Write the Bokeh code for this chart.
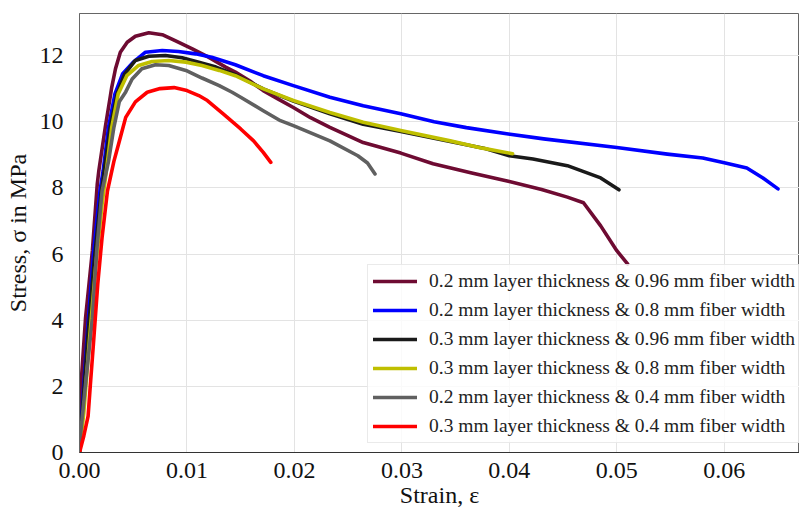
from bokeh.plotting import figure
from bokeh.models import Range1d, FixedTicker, NumeralTickFormatter, Legend, LegendItem
from bokeh.embed import file_html
from bokeh.resources import INLINE

labels = [
    "0.2 mm layer thickness & 0.96 mm fiber width",
    "0.2 mm layer thickness & 0.8 mm fiber width",
    "0.3 mm layer thickness & 0.96 mm fiber width",
    "0.3 mm layer thickness & 0.8 mm fiber width",
    "0.2 mm layer thickness & 0.4 mm fiber width",
    "0.3 mm layer thickness & 0.4 mm fiber width",
]
colors = ["#6e0b32", "#0000ff", "#1a1a1a", "#bfbf00", "#606060", "#ff0000"]

# 0.2 mm / 0.96 mm
x1 = [0, 0.0001, 0.00056, 0.0012, 0.00165, 0.0018, 0.0024, 0.00288, 0.003, 0.00335, 0.0038, 0.00444, 0.0052, 0.00645, 0.0077, 0.0089, 0.0105, 0.012, 0.0136, 0.0145, 0.0159, 0.0171, 0.0185, 0.0199, 0.0215, 0.0233, 0.0264, 0.0299, 0.0329, 0.0365, 0.0399, 0.043, 0.0454, 0.0469, 0.0485, 0.05, 0.051]
y1 = [0, 1.85, 4.05, 6.1, 8.1, 8.52, 9.83, 10.79, 11.04, 11.6, 12.1, 12.4, 12.58, 12.69, 12.63, 12.45, 12.2, 11.95, 11.65, 11.5, 11.22, 10.94, 10.68, 10.43, 10.12, 9.83, 9.37, 9.05, 8.73, 8.45, 8.2, 7.95, 7.72, 7.55, 6.85, 6.1, 5.7]

# 0.2 mm / 0.8 mm
x2 = [0, 0.0003, 0.0008, 0.0013, 0.0019, 0.0022, 0.0027, 0.0033, 0.004, 0.005, 0.00614, 0.0077, 0.0092, 0.0108, 0.0123, 0.0145, 0.0171, 0.0199, 0.0233, 0.0264, 0.0299, 0.033, 0.036, 0.0399, 0.0432, 0.05, 0.0547, 0.058, 0.06, 0.0621, 0.0636, 0.065]
y2 = [0, 1.6, 3.9, 6.0, 7.9, 8.52, 9.83, 10.84, 11.44, 11.8, 12.1, 12.15, 12.12, 12.05, 11.95, 11.72, 11.39, 11.09, 10.74, 10.48, 10.24, 10.0, 9.82, 9.63, 9.48, 9.22, 9.02, 8.9, 8.76, 8.6, 8.3, 7.97]

# 0.3 mm / 0.96 mm
x3 = [0, 0.0003, 0.0008, 0.0014, 0.002, 0.0023, 0.00285, 0.0035, 0.0042, 0.0052, 0.00645, 0.008, 0.00955, 0.0111, 0.0127, 0.0145, 0.0171, 0.0199, 0.0233, 0.0264, 0.0299, 0.033, 0.0376, 0.04, 0.0422, 0.0454, 0.0485, 0.0502]
y3 = [0, 1.4, 3.6, 5.9, 7.8, 8.52, 9.83, 10.84, 11.44, 11.85, 11.98, 12.0, 11.93, 11.8, 11.65, 11.42, 10.99, 10.62, 10.24, 9.92, 9.7, 9.5, 9.2, 8.97, 8.87, 8.67, 8.3, 7.94]

# 0.3 mm / 0.8 mm
x4 = [0, 0.0004, 0.0009, 0.0015, 0.0021, 0.0025, 0.003, 0.0036, 0.0044, 0.0055, 0.00676, 0.0083, 0.0099, 0.0114, 0.013, 0.0145, 0.0171, 0.0199, 0.0233, 0.0264, 0.0299, 0.0345, 0.0375, 0.0403]
y4 = [0, 1.2, 3.3, 5.6, 7.5, 8.52, 9.83, 10.84, 11.39, 11.7, 11.82, 11.85, 11.8, 11.7, 11.55, 11.39, 10.99, 10.64, 10.28, 9.98, 9.73, 9.42, 9.2, 9.03]

# 0.2 mm / 0.4 mm
x5 = [0, 0.0001, 0.00056, 0.0012, 0.0016, 0.0021, 0.0027, 0.0032, 0.0037, 0.0043, 0.0049, 0.0058, 0.00707, 0.0083, 0.0099, 0.0114, 0.013, 0.0142, 0.015, 0.0171, 0.0187, 0.0199, 0.0233, 0.0259, 0.0268, 0.0275]
y5 = [0, 0.55, 2.06, 4.06, 6.1, 7.9, 8.8, 9.83, 10.6, 10.9, 11.29, 11.6, 11.72, 11.7, 11.55, 11.32, 11.09, 10.89, 10.74, 10.33, 10.03, 9.88, 9.42, 8.97, 8.75, 8.42]

# 0.3 mm / 0.4 mm
x6 = [0, 0.0004, 0.0008, 0.001, 0.0013, 0.0017, 0.0021, 0.0026, 0.0032, 0.0037, 0.0043, 0.0052, 0.0063, 0.0075, 0.0088, 0.01, 0.0111, 0.0119, 0.0134, 0.015, 0.0162, 0.0171, 0.0178]
y6 = [0, 0.5, 1.1, 2.0, 3.3, 5.1, 6.5, 7.9, 8.8, 9.4, 10.13, 10.6, 10.89, 11.0, 11.03, 10.94, 10.79, 10.64, 10.23, 9.78, 9.42, 9.07, 8.77]

x_ticks = [0.0, 0.01, 0.02, 0.03, 0.04, 0.05, 0.06]
y_ticks = [0, 2, 4, 6, 8, 10, 12]

FONT = "Liberation Serif"

p = figure(frame_width=720, frame_height=439,
           x_range=Range1d(0, 0.067), y_range=Range1d(0, 13.27),
           output_backend="svg", toolbar_location=None,
           min_border_left=79, min_border_top=13, min_border_right=0, min_border_bottom=40)
p.background_fill_color = "white"
p.border_fill_color = "white"
p.outline_line_color = "#666666"
p.outline_line_width = 1

for ax in (p.xaxis[0], p.yaxis[0]):
    ax.major_tick_in = 0
    ax.major_tick_out = 0
    ax.minor_tick_in = 0
    ax.minor_tick_out = 0
    ax.major_label_text_font = FONT
    ax.major_label_text_font_size = "24px"
    ax.major_label_text_color = "#111111"
    ax.axis_label_text_font = FONT
    ax.axis_label_text_font_size = "24px"
    ax.axis_label_text_font_style = "normal"
    ax.axis_label_text_color = "#111111"

p.xaxis.ticker = FixedTicker(ticks=x_ticks)
p.xaxis.formatter = NumeralTickFormatter(format="0.00")
p.yaxis.ticker = FixedTicker(ticks=y_ticks)
p.xaxis.axis_label = "Strain, ε"
p.yaxis.axis_label = "Stress, σ in MPa"
p.xaxis.axis_line_color = "#333333"
p.yaxis.axis_line_color = "#666666"
p.xaxis.major_label_standoff = 10
p.xaxis.axis_label_standoff = 1
p.yaxis.major_label_standoff = 16
p.yaxis.axis_label_standoff = 6

p.xgrid.grid_line_color = "#e3e3e3"
p.ygrid.grid_line_color = "#e3e3e3"

xs = [x1, x2, x3, x4, x5, x6]
ys = [y1, y2, y3, y4, y5, y6]
items = []
for xv, yv, c, lab in zip(xs, ys, colors, labels):
    r = p.line(xv, yv, line_color=c, line_width=3.6, line_join="round", line_cap="round")
    items.append(LegendItem(label=lab, renderers=[r]))

legend = Legend(items=items, location=(288, 9), orientation="vertical")
legend.label_text_font = FONT
legend.label_text_font_size = "19.5px"
legend.label_text_color = "#222222"
legend.glyph_width = 44
legend.glyph_height = 20
legend.label_height = 20
legend.label_standoff = 12
legend.spacing = 7
legend.padding = 5
legend.margin = 0
legend.background_fill_color = "white"
legend.background_fill_alpha = 0.8
legend.border_line_color = "#d6d6d6"
legend.border_line_width = 1
p.add_layout(legend, "center")

open("out.html", "w").write(file_html(p, INLINE))
